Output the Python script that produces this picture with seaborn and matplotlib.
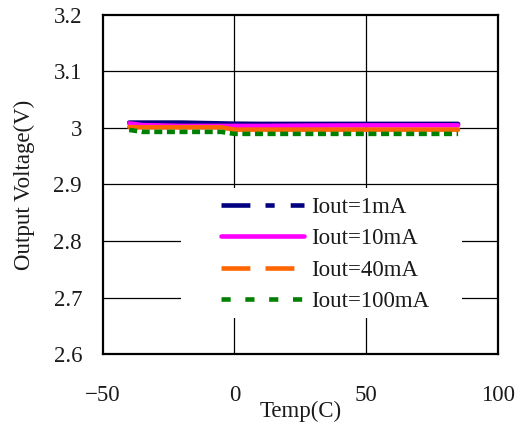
import matplotlib
matplotlib.use("Agg")
import matplotlib.pyplot as plt
from matplotlib.patches import Rectangle
import pandas as pd
import seaborn as sns

# temperature points (C)
temps = [-40, -35, -20, -5, 0, 10, 25, 50, 85]

# output voltage (V) per load current
v_1ma = [3.0094, 3.0094, 3.0094, 3.0080, 3.0075, 3.0071, 3.0071, 3.0071, 3.0071]
v_10ma = [3.0080, 3.0050, 3.0035, 3.0035, 3.0035, 3.0035, 3.0040, 3.0045, 3.0046]
v_40ma = [3.0015, 3.0010, 3.0010, 3.0010, 2.9970, 2.9970, 2.9970, 2.9970, 2.9970]
v_100ma = [2.9965, 2.9930, 2.9930, 2.9930, 2.9895, 2.9895, 2.9895, 2.9895, 2.9895]

labels = ["Iout=1mA", "Iout=10mA", "Iout=40mA", "Iout=100mA"]
series = [v_1ma, v_10ma, v_40ma, v_100ma]

y_ticks = [2.6, 2.7, 2.8, 2.9, 3.0, 3.1, 3.2]
y_tick_labels = ["2.6", "2.7", "2.8", "2.9", "3", "3.1", "3.2"]
x_ticks = [-50, 0, 50, 100]
x_tick_labels = ["\u221250", "0", "50", "100"]

df = pd.DataFrame({
    "Temp": temps * len(labels),
    "Vout": [v for s in series for v in s],
    "Load": [lab for lab in labels for _ in temps],
})

palette = {
    "Iout=1mA": "#000080",
    "Iout=10mA": "#FF00FF",
    "Iout=40mA": "#FF6600",
    "Iout=100mA": "#008000",
}
# dash patterns on the plotted curves (dense data -> looks solid in the original)
plot_dashes = {
    "Iout=1mA": "",
    "Iout=10mA": "",
    "Iout=40mA": "",
    "Iout=100mA": (1.75, 1.0),
}
# dash patterns shown in the legend keys
legend_dashes = {
    "Iout=1mA": (6.3, 3.3, 2.0, 3.5),
    "Iout=10mA": None,
    "Iout=40mA": (6.3, 3.3),
    "Iout=100mA": (2.0, 3.2),
}

TXT = "#1a1a1a"
FS = 16.5

sns.set_style("white")
plt.rcParams["font.family"] = ["Liberation Serif", "DejaVu Serif"]

fig = plt.figure(figsize=(5.21, 4.25), dpi=100)
ax = fig.add_axes([0.1975, 0.167, 0.7575, 0.798])

sns.lineplot(data=df, x="Temp", y="Vout", hue="Load", style="Load",
             palette=palette, dashes=plot_dashes, hue_order=labels, style_order=labels,
             linewidth=3.3, ax=ax, legend=True, zorder=3)
for ln in ax.lines:
    ln.set_dash_capstyle("butt")
    ln.set_solid_capstyle("round")

ax.set_xlim(-50, 100)
ax.set_ylim(2.6, 3.2)
ax.set_xticks(x_ticks)
ax.set_xticklabels(x_tick_labels)
ax.set_yticks(y_ticks)
ax.set_yticklabels(y_tick_labels)
ax.tick_params(axis="both", length=0, labelsize=FS, colors=TXT)
ax.tick_params(axis="x", pad=22)
ax.tick_params(axis="y", pad=15)

for yv in y_ticks[1:-1]:
    ax.axhline(yv, color="black", lw=0.9, zorder=0.5)
for xv in [0, 50]:
    ax.axvline(xv, color="black", lw=0.9, zorder=0.5)

# white box behind the legend hiding the grid
ax.add_patch(Rectangle((0.197, 0.106), 0.714, 0.384, transform=ax.transAxes,
                       facecolor="white", edgecolor="none", zorder=1))

for sp in ax.spines.values():
    sp.set_color("black")
    sp.set_linewidth(1.6)

ax.set_xlabel("Temp(C)", fontsize=FS, color=TXT)
ax.xaxis.set_label_coords(0.5, -0.138)
ax.set_ylabel("Output Voltage(V)", fontsize=FS, color=TXT)
ax.yaxis.set_label_coords(-0.172, 0.5)

leg = ax.legend(loc="center left", bbox_to_anchor=(0.299, 0.2935), frameon=False,
                fontsize=FS, handlelength=3.62, labelspacing=0.44,
                handletextpad=0.3, borderpad=0, borderaxespad=0)
leg.set_zorder(5)
for t in leg.get_texts():
    t.set_color(TXT)
for h, lab in zip(leg.legend_handles, labels):
    h.set_linewidth(3.3)
    if legend_dashes[lab] is None:
        h.set_linestyle("-")
        h.set_solid_capstyle("round")
    else:
        h.set_linestyle((0, legend_dashes[lab]))
        h.set_dash_capstyle("butt")

fig.savefig("out.png", dpi=100)
